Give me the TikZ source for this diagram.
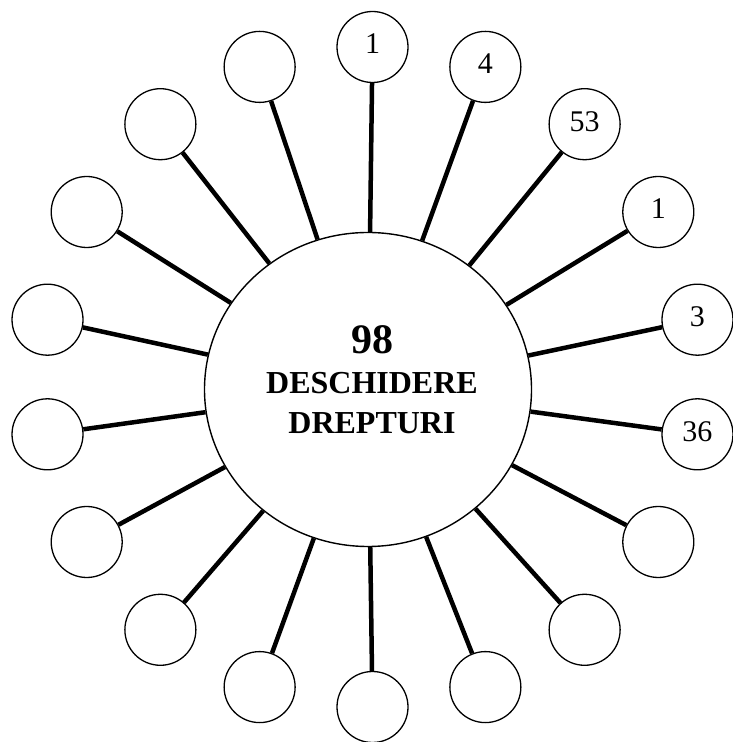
\documentclass[tikz,border=0pt]{standalone}
\usepackage{fontspec}
\setmainfont{Liberation Serif}
\usepackage{tikz}
\usetikzlibrary{shapes.geometric}

\begin{document}
\begin{tikzpicture}[
  x=1pt, y=1pt,
  hub/.style={draw, ellipse, line width=1.4pt, minimum width=327pt, minimum height=314pt, inner sep=0pt},
  ring/.style={draw, circle, line width=1.3pt, minimum size=71pt, inner sep=0pt,
    text depth=6pt, font=\fontsize{30}{32}\selectfont},
  spk/.style={line width=4.5pt}
]
\useasboundingbox (0,0) rectangle (733,742);

% Hub
\node[hub] (hub) at (368,352.5) {};
\node[font=\fontsize{32}{40}\selectfont\bfseries, align=center] (hubtxt) at (372,362)
  {{\fontsize{42}{40}\selectfont 98}\\DESCHIDERE\\DREPTURI};

% Outer circles, clockwise from the top
\coordinate (c) at (372.5,365);
\node[ring] (o1) at ([shift={(90:330)}]c) {1};
\node[ring] (o2) at ([shift={(70:330)}]c) {4};
\node[ring] (o3) at ([shift={(50:330)}]c) {53};
\node[ring] (o4) at ([shift={(30:330)}]c) {1};
\node[ring] (o5) at ([shift={(10:330)}]c) {3};
\node[ring] (o6) at ([shift={(-10:330)}]c) {36};
\node[ring] (o7) at ([shift={(-30:330)}]c) {};
\node[ring] (o8) at ([shift={(-50:330)}]c) {};
\node[ring] (o9) at ([shift={(-70:330)}]c) {};
\node[ring] (o10) at ([shift={(-90:330)}]c) {};
\node[ring] (o11) at ([shift={(-110:330)}]c) {};
\node[ring] (o12) at ([shift={(-130:330)}]c) {};
\node[ring] (o13) at ([shift={(-150:330)}]c) {};
\node[ring] (o14) at ([shift={(-170:330)}]c) {};
\node[ring] (o15) at ([shift={(170:330)}]c) {};
\node[ring] (o16) at ([shift={(150:330)}]c) {};
\node[ring] (o17) at ([shift={(130:330)}]c) {};
\node[ring] (o18) at ([shift={(110:330)}]c) {};

% Spokes
\draw[spk] (hub)--(o1); \draw[spk] (hub)--(o2); \draw[spk] (hub)--(o3);
\draw[spk] (hub)--(o4); \draw[spk] (hub)--(o5); \draw[spk] (hub)--(o6);
\draw[spk] (hub)--(o7); \draw[spk] (hub)--(o8); \draw[spk] (hub)--(o9);
\draw[spk] (hub)--(o10); \draw[spk] (hub)--(o11); \draw[spk] (hub)--(o12);
\draw[spk] (hub)--(o13); \draw[spk] (hub)--(o14); \draw[spk] (hub)--(o15);
\draw[spk] (hub)--(o16); \draw[spk] (hub)--(o17); \draw[spk] (hub)--(o18);
\end{tikzpicture}
\end{document}
